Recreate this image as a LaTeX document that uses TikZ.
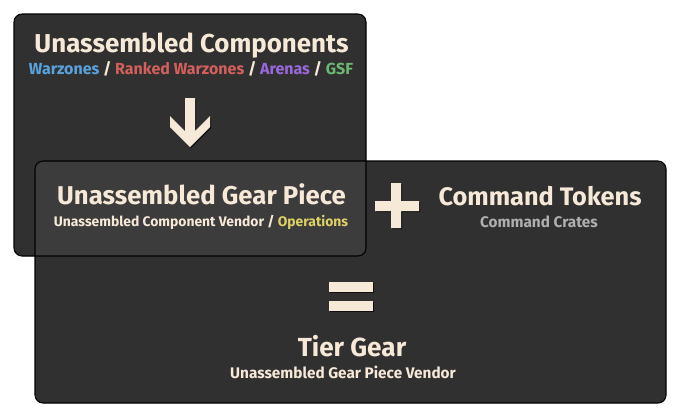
\documentclass[tikz,border=0pt]{standalone}
\usepackage{fontspec}
\setmainfont{Fira Sans}
\usetikzlibrary{shadows}
\definecolor{panelgray}{HTML}{303030}
\definecolor{overlapgray}{HTML}{3C3C3C}
\definecolor{cream}{HTML}{F7E9D7}
\definecolor{wzblue}{HTML}{5AA2DE}
\definecolor{rankred}{HTML}{D2605C}
\definecolor{arenapurple}{HTML}{9A68DD}
\definecolor{gsfgreen}{HTML}{6CB873}
\definecolor{opsyellow}{HTML}{E0D165}
\definecolor{crategray}{HTML}{AFAFAF}
\newcommand{\fsz}[1]{\bfseries\fontsize{#1}{#1}\selectfont}
\tikzset{
  panel/.style={draw=black, line width=0.8pt, rounded corners=6pt},
  heading/.style={text=cream, font=\fsz{19.3}, inner sep=0pt, anchor=base},
  source/.style={text=cream, font=\fsz{11}, inner sep=0pt, anchor=base},
  glyph/.style={fill=cream, draw=none, drop shadow={shadow xshift=0.8pt, shadow yshift=-0.8pt, opacity=0.7, fill=black}},
}
\begin{document}
\begin{tikzpicture}[x=0.75pt, y=-0.75pt]
    \useasboundingbox (0,0) rectangle (680,418);
    % panels
    \fill[panelgray, rounded corners=6pt] (14,14) rectangle (366,256);
    \fill[panelgray, rounded corners=6pt] (35,161) rectangle (666,403);
    \begin{scope}
        \clip[rounded corners=6pt] (14,14) rectangle (366,256);
        \fill[overlapgray, rounded corners=6pt] (35,161) rectangle (666,403);
    \end{scope}
    \draw[panel] (14,14) rectangle (366,256);
    \draw[panel] (35,161) rectangle (666,403);
    % arrow, plus, equals
    \path[glyph] (185,98) -- (195,98) -- (195,131) -- (210,116) -- (210,127) -- (190,147)
        -- (170,127) -- (170,116) -- (185,131) -- cycle;
    \path[glyph] (391,183) -- (401,183) -- (401,201) -- (419,201) -- (419,211) -- (401,211)
        -- (401,228) -- (391,228) -- (391,211) -- (375,211) -- (375,201) -- (391,201) -- cycle;
    \path[glyph] (329,282) rectangle (373,292);
    \path[glyph] (329,301) rectangle (373,311);
    % texts
    \node[heading, font=\fsz{19.4}] (components) at (191.5,52) {Unassembled Components};
    \node[source, font=\fsz{12}] (componentsrc) at (191,74) {\textcolor{wzblue}{Warzones} / \textcolor{rankred}{Ranked Warzones} / \textcolor{arenapurple}{Arenas} / \textcolor{gsfgreen}{GSF}};
    \node[heading] (gearpiece) at (201.5,204) {Unassembled Gear Piece};
    \node[source, font=\fsz{10.4}] (gearpiecesrc) at (201,226) {Unassembled Component Vendor / \textcolor{opsyellow}{Operations}};
    \node[heading, font=\fsz{19}] (tokens) at (540,205) {Command Tokens};
    \node[source, text=crategray, font=\fsz{11.5}] (tokensrc) at (539,227) {Command Crates};
    \node[heading, font=\fsz{19.6}] (tiergear) at (352,356) {Tier Gear};
    \node[source, font=\fsz{11.5}] (tiergearsrc) at (343,378) {Unassembled Gear Piece Vendor};
\end{tikzpicture}
\end{document}
